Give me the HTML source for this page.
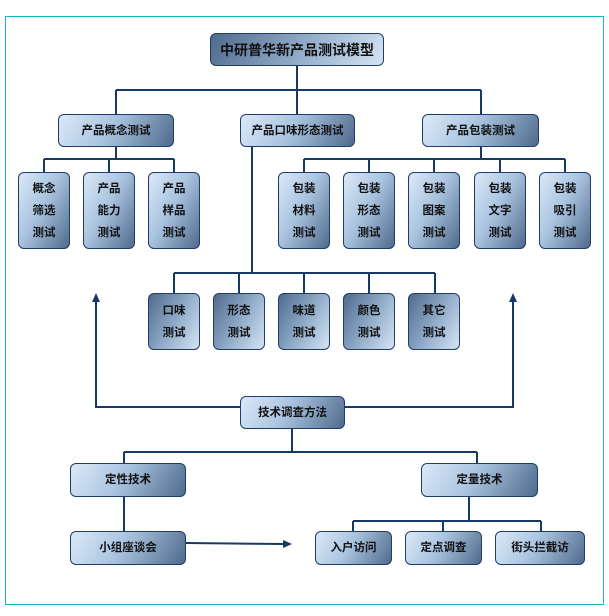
<!DOCTYPE html>
<html><head><meta charset="utf-8"><style>
body{margin:0;width:609px;height:616px;background:#fff;position:relative;overflow:hidden;font-family:"Liberation Sans","Noto Sans CJK SC",sans-serif}
.f{position:absolute;left:5px;top:16px;width:597px;height:587px;border:1px solid #1ab5c0}
.b{position:absolute;box-sizing:border-box;border:1px solid #1f3d66;border-radius:6px;background:linear-gradient(120deg,#dbe9f8 0%,#a9c3df 45%,#4f6a8c 100%);display:flex;align-items:center;justify-content:center;text-align:center;font-weight:bold;font-size:11.5px;color:#111;line-height:22px}
.r{background:linear-gradient(120deg,#4f6a8c 0%,#8ea9c7 50%,#d5e4f4 100%)}
svg{position:absolute;left:0;top:0}
</style></head><body>
<div class="f"></div>
<svg width="609" height="616" fill="none" stroke="#173a64" stroke-width="2">
<path d="M297 66V90M116 90H481M116 90V114M297 90V114M481 90V114"/>
<path d="M116 147V159M44 159H174M44 159V172M109 159V172M174 159V172"/>
<path d="M481 147V159M304 159H565M304 159V172M369 159V172M434 159V172M500 159V172M565 159V172"/>
<path d="M252 147V273M174 273H435M174 273V293M239 273V293M304 273V293M369 273V293M435 273V293"/>
<path d="M96 300V407H240M345 407H513V300"/>
<path d="M292 429V452M124 452H477M124 452V463M477 452V463"/>
<path d="M124 497V531M469 497V521M353 521H541M353 521V531M443 521V531M541 521V531"/>
<path d="M186 543L284 544"/>
<polygon points="96,293 92,302 100,302" fill="#173a64" stroke="none"/>
<polygon points="513,293 509,302 517,302" fill="#173a64" stroke="none"/>
<polygon points="292,544 283,540 283,548" fill="#173a64" stroke="none"/>
</svg>
<div class="b r" style="left:210px;top:33px;width:174px;height:33px;font-size:14px">中研普华新产品测试模型</div>
<div class="b" style="left:58px;top:114px;width:116px;height:33px">产品概念测试</div>
<div class="b" style="left:240px;top:114px;width:115px;height:33px">产品口味形态测试</div>
<div class="b" style="left:422px;top:114px;width:117px;height:33px">产品包装测试</div>
<div class="b" style="left:18px;top:172px;width:52px;height:77px">概念<br>筛选<br>测试</div>
<div class="b" style="left:83px;top:172px;width:52px;height:77px">产品<br>能力<br>测试</div>
<div class="b" style="left:148px;top:172px;width:52px;height:77px">产品<br>样品<br>测试</div>
<div class="b" style="left:278px;top:172px;width:52px;height:77px">包装<br>材料<br>测试</div>
<div class="b" style="left:343px;top:172px;width:52px;height:77px">包装<br>形态<br>测试</div>
<div class="b" style="left:408px;top:172px;width:52px;height:77px">包装<br>图案<br>测试</div>
<div class="b" style="left:474px;top:172px;width:52px;height:77px">包装<br>文字<br>测试</div>
<div class="b" style="left:539px;top:172px;width:52px;height:77px">包装<br>吸引<br>测试</div>
<div class="b r" style="left:148px;top:293px;width:52px;height:57px">口味<br>测试</div>
<div class="b r" style="left:213px;top:293px;width:52px;height:57px">形态<br>测试</div>
<div class="b r" style="left:278px;top:293px;width:52px;height:57px">味道<br>测试</div>
<div class="b r" style="left:343px;top:293px;width:52px;height:57px">颜色<br>测试</div>
<div class="b r" style="left:408px;top:293px;width:52px;height:57px">其它<br>测试</div>
<div class="b" style="left:240px;top:396px;width:105px;height:33px">技术调查方法</div>
<div class="b" style="left:70px;top:463px;width:116px;height:34px">定性技术</div>
<div class="b" style="left:421px;top:463px;width:117px;height:34px">定量技术</div>
<div class="b" style="left:70px;top:531px;width:116px;height:34px">小组座谈会</div>
<div class="b" style="left:315px;top:531px;width:77px;height:34px">入户访问</div>
<div class="b" style="left:405px;top:531px;width:77px;height:34px">定点调查</div>
<div class="b" style="left:495px;top:531px;width:90px;height:34px">街头拦截访</div>
</body></html>
